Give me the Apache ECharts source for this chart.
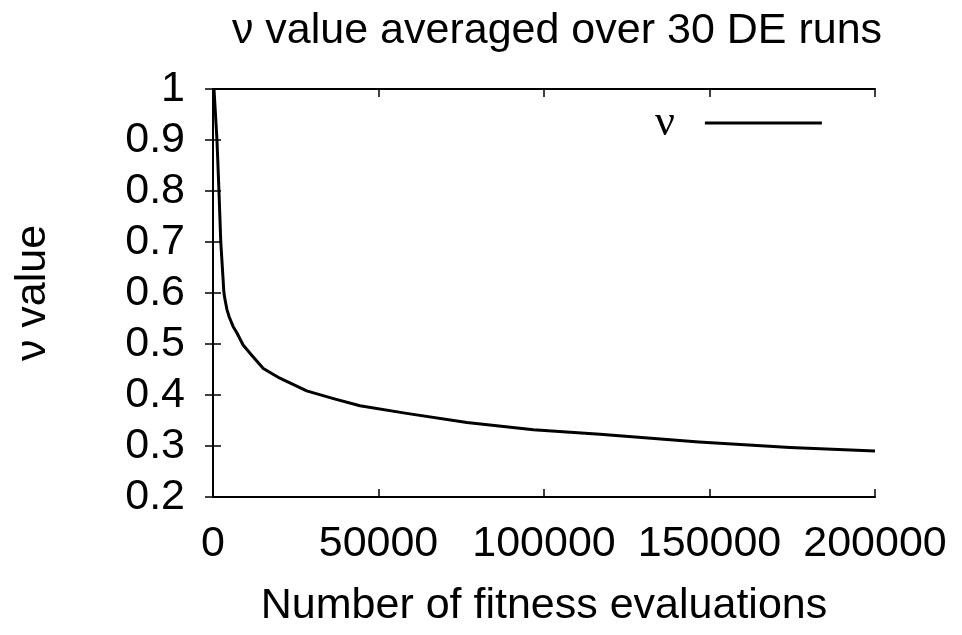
<!DOCTYPE html>
<html><head><meta charset="utf-8">
<script src="https://cdn.jsdelivr.net/npm/echarts@6/dist/echarts.min.js"></script>
<style>
html,body{margin:0;padding:0;background:#fff;overflow:hidden}
#c{width:962px;height:635px}
</style>
</head><body><div id="c"></div>
<script>
const titleText = 'ν value averaged over 30 DE runs';
const xAxisTitle = 'Number of fitness evaluations';
const yAxisTitle = 'ν value';
const seriesName = 'ν';
const xMin = 0, xMax = 200000, xStep = 50000;
const yMin = 0.2, yMax = 1, yStep = 0.1;
const evaluations = [300, 1200, 1800, 2350, 3300, 3700, 4200, 4900, 6100, 7200, 9100, 11700, 15200, 20200, 28300, 36400, 44400, 58500, 76700, 96800, 116900, 146800, 174300, 200000];
const nuValues    = [1.0, 0.9, 0.8, 0.7, 0.6, 0.585, 0.568, 0.553, 0.534, 0.522, 0.498, 0.478, 0.452, 0.433, 0.408, 0.393, 0.379, 0.364, 0.346, 0.332, 0.323, 0.308, 0.297, 0.290];

const FONT = 'Liberation Sans';
const FS = 43;
const chart = echarts.init(document.getElementById('c'), null, {renderer: 'canvas'});
const axisLine = {show: true, lineStyle: {color: '#000', width: 2}};
const tick = {show: true, inside: true, length: 8, lineStyle: {color: '#000', width: 1.5}};
const option = {
  backgroundColor: '#fff',
  animation: false,
  title: {
    text: titleText, left: 552, top: 5, textAlign: 'center',
    textStyle: {fontFamily: FONT, fontSize: FS, fontWeight: 'normal', color: '#000'}
  },
  legend: {
    show: true, left: 650, top: 96, align: 'right',
    itemWidth: 117, itemHeight: 26,
    data: [{name: seriesName, icon: 'path://M0,0 L100,0 L100,2.4 L0,2.4 Z'}],
    textStyle: {fontFamily: 'Liberation Serif', fontSize: 44, color: '#000', padding: [0, 25, 0, 0]}
  },
  grid: {left: 213, right: 87, top: 89, bottom: 138, containLabel: false},
  xAxis: [{
    type: 'value', min: xMin, max: xMax, interval: xStep, position: 'bottom',
    name: xAxisTitle, nameLocation: 'middle', nameGap: 88,
    nameTextStyle: {fontFamily: FONT, fontSize: FS, color: '#000'},
    axisLine: axisLine, axisTick: tick,
    axisLabel: {fontFamily: FONT, fontSize: FS, color: '#000', margin: 26, formatter: v => String(v)},
    splitLine: {show: false}
  }, {
    type: 'value', min: xMin, max: xMax, interval: xStep, position: 'top',
    axisLine: axisLine, axisTick: tick,
    axisLabel: {show: false}, splitLine: {show: false}
  }],
  yAxis: [{
    type: 'value', min: yMin, max: yMax, interval: yStep, position: 'left',
    name: yAxisTitle, nameLocation: 'middle', nameGap: 158, nameRotate: 90,
    nameTextStyle: {fontFamily: FONT, fontSize: FS, color: '#000'},
    axisLine: axisLine, axisTick: tick,
    axisLabel: {fontFamily: FONT, fontSize: FS, color: '#000', margin: 28,
      formatter: v => String(Number(v.toFixed(1)))},
    splitLine: {show: false}
  }, {
    type: 'value', min: yMin, max: yMax, interval: yStep, position: 'right',
    axisLine: axisLine, axisTick: tick,
    axisLabel: {show: false}, splitLine: {show: false}
  }],
  series: [{
    name: seriesName, type: 'line', xAxisIndex: 0, yAxisIndex: 0,
    data: evaluations.map((x, i) => [x, nuValues[i]]),
    showSymbol: false, symbol: 'none', smooth: false,
    lineStyle: {color: '#000', width: 3, join: 'round'}, itemStyle: {color: '#000'}
  }]
};
chart.setOption(option);
</script>
</body></html>
